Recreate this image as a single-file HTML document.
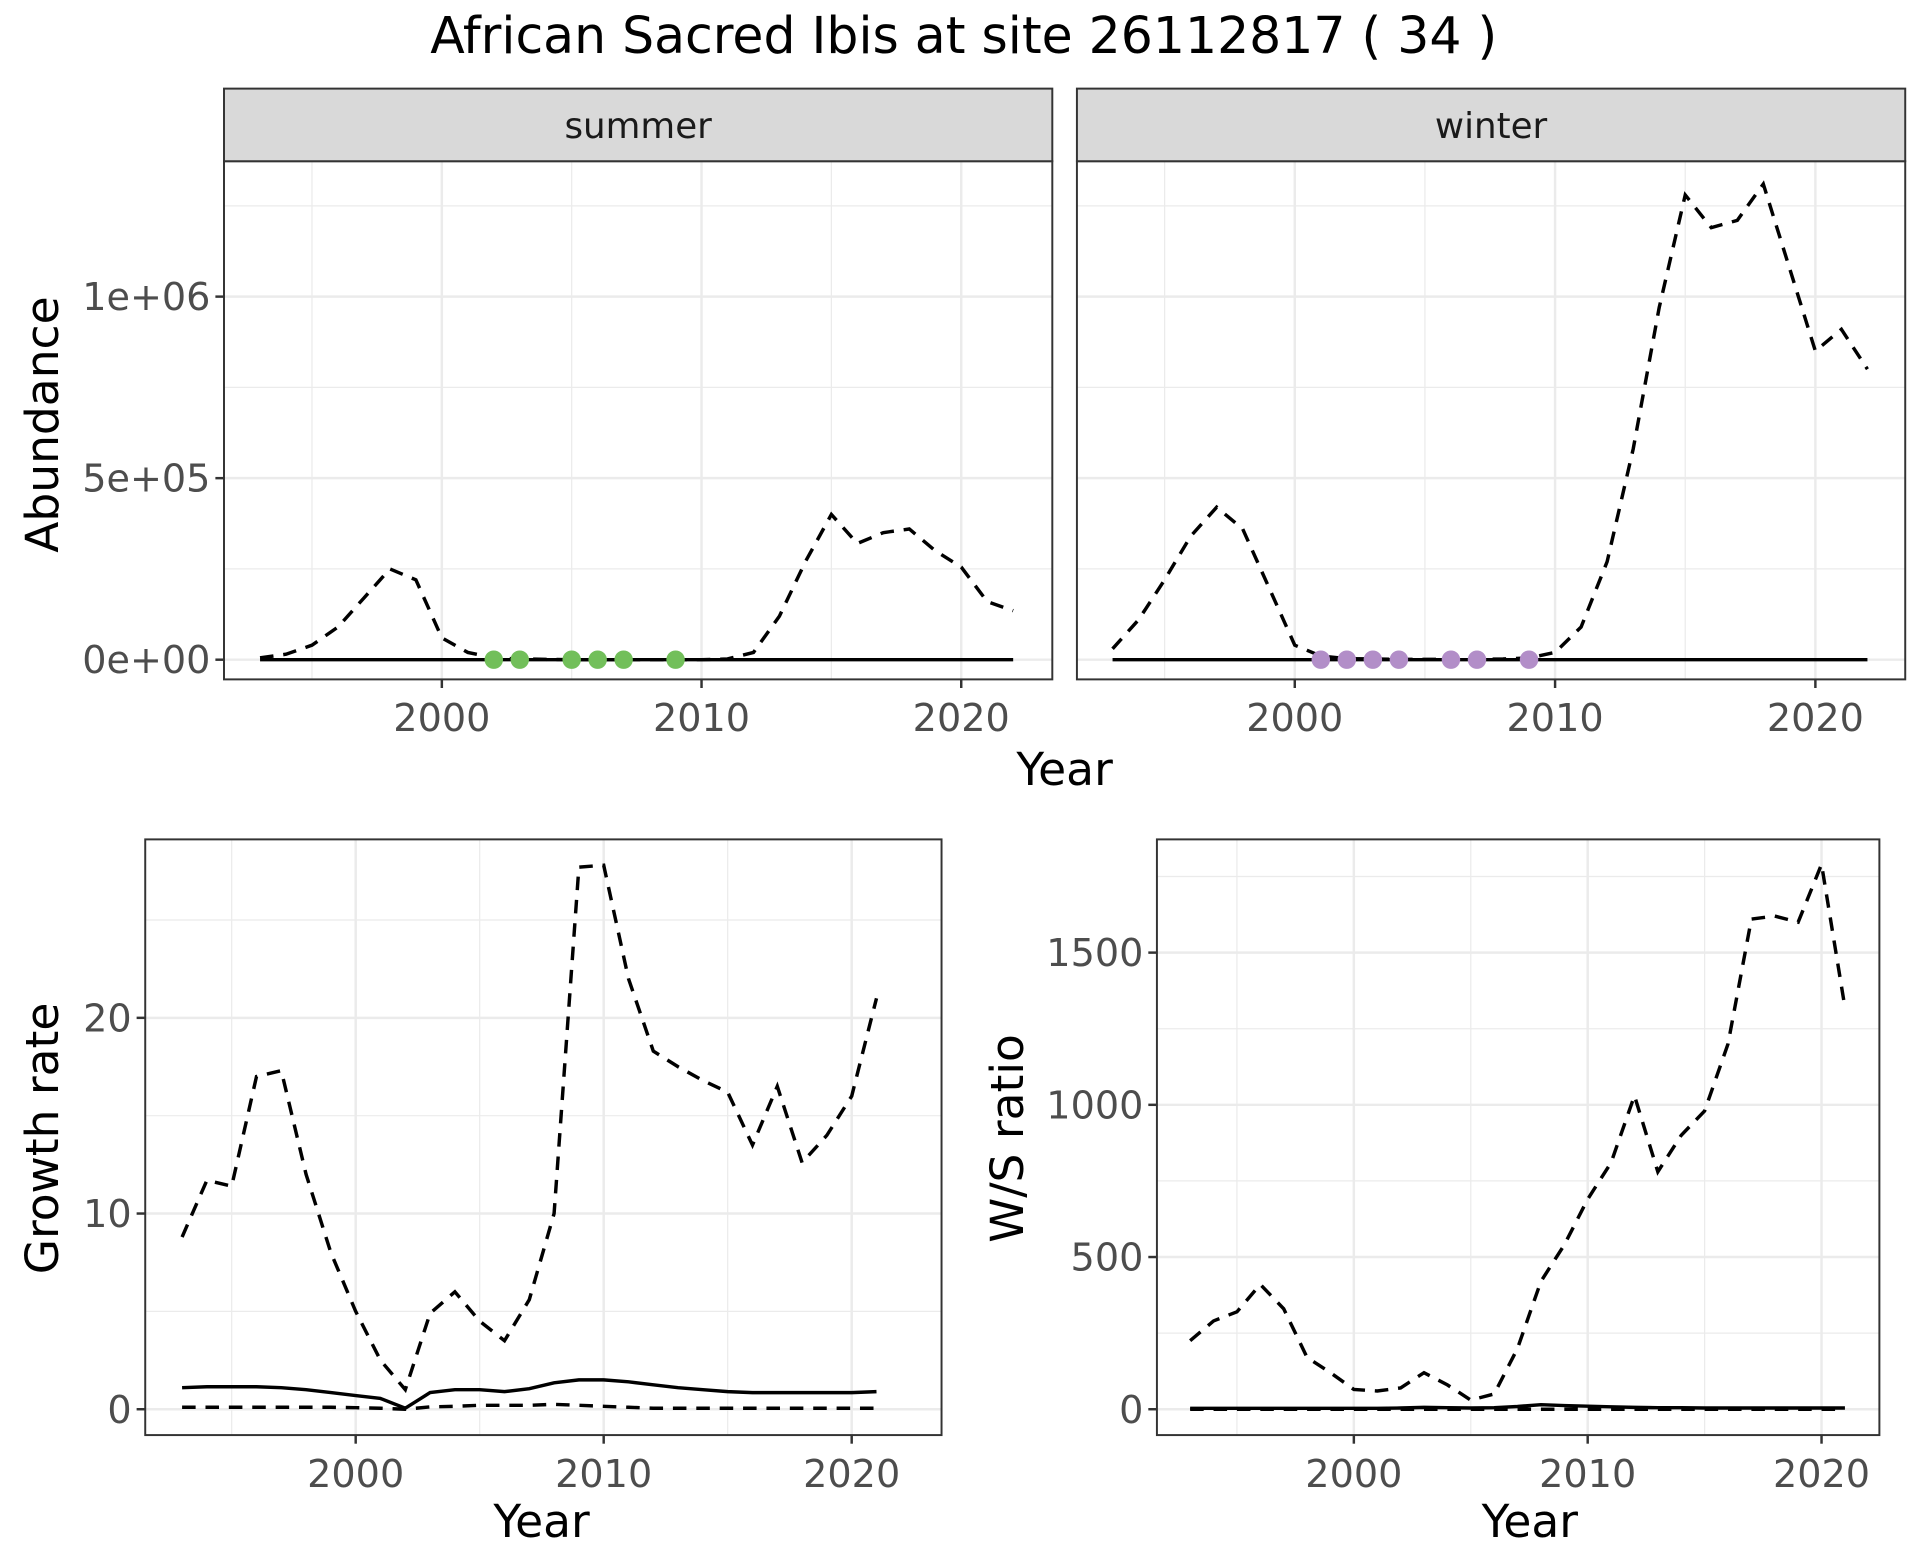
<!DOCTYPE html>
<html><head><meta charset="utf-8"><style>
html,body{margin:0;padding:0;background:#fff;}
svg{display:block;font-family:"DejaVu Sans","Liberation Sans",sans-serif;}
</style></head><body>
<svg id="chart" width="1920" height="1560" viewBox="0 0 1560 1267.5" preserveAspectRatio="none" xmlns="http://www.w3.org/2000/svg">
<text x="783" y="43" font-size="41" text-anchor="middle" fill="#000">African Sacred Ibis at site 26112817 ( 34 )</text>
</svg>
<script>
const years = [];
for (let y = 1993; y <= 2022; y++) years.push(y);
const summerDashed = [5000,15000,40000,90000,170000,250000,220000,60000,20000,5000,2000,1000,0,0,0,0,0,0,2000,20000,120000,270000,400000,320000,350000,360000,300000,255000,160000,135000];
const summerSolid = years.map(()=>0);
const summerPointYears = [2002,2003,2005,2006,2007,2009];
const winterDashed = [30000,110000,220000,340000,420000,360000,200000,40000,10000,3000,2000,1000,1000,1000,1000,2000,5000,20000,90000,270000,580000,970000,1280000,1190000,1210000,1310000,1080000,850000,910000,800000];
const winterSolid = years.map(()=>0);
const winterPointYears = [2001,2002,2003,2004,2006,2007,2009];
const abundTicks = [0,500000,1000000];
const abundTickLabels = ["0e+00","5e+05","1e+06"];
const yearTicks = [2000,2010,2020];

const gYears = years.slice(0,29);
const growthUpper = [8.8,11.7,11.4,17,17.3,12,8,5,2.5,1,4.9,6,4.5,3.5,5.6,10,27.7,27.8,22,18.3,17.5,16.8,16.2,13.5,16.5,12.6,14,16,21];
const growthMid = [1.1,1.15,1.15,1.15,1.1,1.0,0.85,0.7,0.55,0.05,0.85,1.0,1.0,0.9,1.05,1.35,1.5,1.5,1.4,1.25,1.1,1.0,0.9,0.85,0.85,0.85,0.85,0.85,0.9];
const growthLower = [0.1,0.1,0.1,0.1,0.1,0.1,0.1,0.08,0.05,0,0.12,0.15,0.2,0.2,0.2,0.25,0.2,0.15,0.1,0.05,0.05,0.05,0.05,0.05,0.05,0.05,0.05,0.05,0.05];
const growthTicks = [0,10,20];
const wsUpper = [225,290,320,410,330,170,120,65,60,70,120,80,30,50,200,420,540,690,810,1030,780,900,980,1200,1610,1620,1600,1790,1320];
const wsMid = [3,3,3,3,3,3,3,3,3,4,6,5,4,5,9,15,12,10,8,6,5,5,4,4,4,4,4,4,4];
const wsLower = [0,0,0,0,0,0,0,0,0,0,0,0,0,0,0,0,0,0,0,0,0,0,0,0,0,0,0,0,0];
const wsTicks = [0,500,1000,1500];

const svg = document.getElementById('chart');
const NS = 'http://www.w3.org/2000/svg';
function mk(tag, attrs, parent){
  const e = document.createElementNS(NS, tag);
  for (const k in attrs) e.setAttribute(k, attrs[k]);
  (parent||svg).appendChild(e);
  return e;
}
function lin(d0,d1,r0,r1){return v=>r0+(v-d0)/(d1-d0)*(r1-r0);}

function panel(o){
  const g = mk('g', {});
  
  
  mk('rect',{x:o.x0,y:o.y0,width:o.x1-o.x0,height:o.y1-o.y0,fill:'#fff'},g);
  for (let i=0;i<o.xTicks.length+1;i++){
    const v = o.xTicks[0]-5+10*i;
    const px = o.sx(v);
    if (px>o.x0 && px<o.x1) mk('line',{x1:px,x2:px,y1:o.y0,y2:o.y1,stroke:'#ebebeb','stroke-width':1},g);
  }
  for (let i=0;i<o.yTicks.length+1;i++){
    const step = o.yTicks[1]-o.yTicks[0];
    const v = o.yTicks[0]-step/2+step*i;
    const py = o.sy(v);
    if (py>o.y0 && py<o.y1) mk('line',{x1:o.x0,x2:o.x1,y1:py,y2:py,stroke:'#ebebeb','stroke-width':1},g);
  }
  o.xTicks.forEach(v=>{const px=o.sx(v);mk('line',{x1:px,x2:px,y1:o.y0,y2:o.y1,stroke:'#ebebeb','stroke-width':2},g);});
  o.yTicks.forEach(v=>{const py=o.sy(v);mk('line',{x1:o.x0,x2:o.x1,y1:py,y2:py,stroke:'#ebebeb','stroke-width':2},g);});
  o.series.forEach(s=>{
    const d = s.xs.map((x,i)=>(i?'L':'M')+o.sx(x).toFixed(2)+','+o.sy(s.ys[i]).toFixed(2)).join('');
    const p = mk('path',{d:d,fill:'none',stroke:'#000','stroke-width':2.8,'stroke-dasharray':s.dash?'11,8':'none'},g);
    
    
  });
  (o.points||[]).forEach(yv=>{
    const c = mk('circle',{cx:o.sx(yv),cy:o.sy(0),r:7.5,fill:o.pcol},g);
    
    
  });
  mk('rect',{x:o.x0,y:o.y0,width:o.x1-o.x0,height:o.y1-o.y0,fill:'none',stroke:'#333','stroke-width':1.6},g);
  o.xTicks.forEach(v=>{
    const px=o.sx(v);
    mk('line',{x1:px,x2:px,y1:o.y1,y2:o.y1+7,stroke:'#333','stroke-width':2},g);
    const t=mk('text',{x:px,y:o.y1+42,'font-size':31,'text-anchor':'middle',fill:'#4d4d4d'},g);
    t.textContent=v;
    
    
  });
  if (o.yLabels){
    o.yTicks.forEach((v,i)=>{
      const py=o.sy(v);
      mk('line',{x1:o.x0-7,x2:o.x0,y1:py,y2:py,stroke:'#333','stroke-width':2},g);
      const t=mk('text',{x:o.x0-11,y:py+11,'font-size':31,'text-anchor':'end',fill:'#4d4d4d'},g);
      t.textContent=o.yLabels[i];
      
      
    });
  }
  if (o.strip){
    mk('rect',{x:o.x0,y:o.y0-59,width:o.x1-o.x0,height:59,fill:'#d9d9d9',stroke:'#333','stroke-width':1.6},g);
    const t=mk('text',{x:(o.x0+o.x1)/2,y:o.y0-19,'font-size':29,'text-anchor':'middle',fill:'#1a1a1a'},g);
    t.textContent=o.strip;
    
    
  }
}
function text(x,y,s,name,rot){
  const t=mk('text',{x:x,y:y,'font-size':37,'text-anchor':'middle',fill:'#000'});
  if(rot) t.setAttribute('transform','rotate(-90 '+x+' '+y+')');
  t.textContent=s;
  
  
}

const ayTop = lin(0,1000000,536,241);
panel({name:'summer-panel',x0:182,x1:855,y0:131,y1:552,sx:lin(2000,2020,359,781),sy:ayTop,
  xTicks:yearTicks,yTicks:abundTicks,yLabels:abundTickLabels,strip:'summer',pcol:'#72bf5a',points:summerPointYears,
  series:[{name:'summer-solid-line',xs:years,ys:summerSolid},{name:'summer-dashed-line',xs:years,ys:summerDashed,dash:true}]});
panel({name:'winter-panel',x0:875,x1:1548,y0:131,y1:552,sx:lin(2000,2020,1052,1475),sy:ayTop,
  xTicks:yearTicks,yTicks:abundTicks,strip:'winter',pcol:'#b28ec8',points:winterPointYears,
  series:[{name:'winter-solid-line',xs:years,ys:winterSolid},{name:'winter-dashed-line',xs:years,ys:winterDashed,dash:true}]});
text(865,638,'Year','top-x-axis-title');
text(47,345,'Abundance','abundance-y-axis-title',true);

panel({name:'growth-panel',x0:118,x1:765,y0:682,y1:1166,sx:lin(2000,2020,289,692),sy:lin(0,20,1145,827),
  xTicks:yearTicks,yTicks:growthTicks,yLabels:growthTicks.map(String),
  series:[{name:'growth-upper-dashed',xs:gYears,ys:growthUpper,dash:true},{name:'growth-mid-solid',xs:gYears,ys:growthMid},{name:'growth-lower-dashed',xs:gYears,ys:growthLower,dash:true}]});
text(440,1249,'Year','growth-x-axis-title');
text(47,925,'Growth rate','growth-y-axis-title',true);

panel({name:'ws-panel',x0:940,x1:1527,y0:682,y1:1166,sx:lin(2000,2020,1100,1480),sy:lin(0,1500,1145,774),
  xTicks:yearTicks,yTicks:wsTicks,yLabels:wsTicks.map(String),
  series:[{name:'ws-upper-dashed',xs:gYears,ys:wsUpper,dash:true},{name:'ws-mid-solid',xs:gYears,ys:wsMid},{name:'ws-lower-dashed',xs:gYears,ys:wsLower,dash:true}]});
text(1243,1249,'Year','ws-x-axis-title');
text(831,925,'W/S ratio','ws-y-axis-title',true);
</script>
</body></html>
